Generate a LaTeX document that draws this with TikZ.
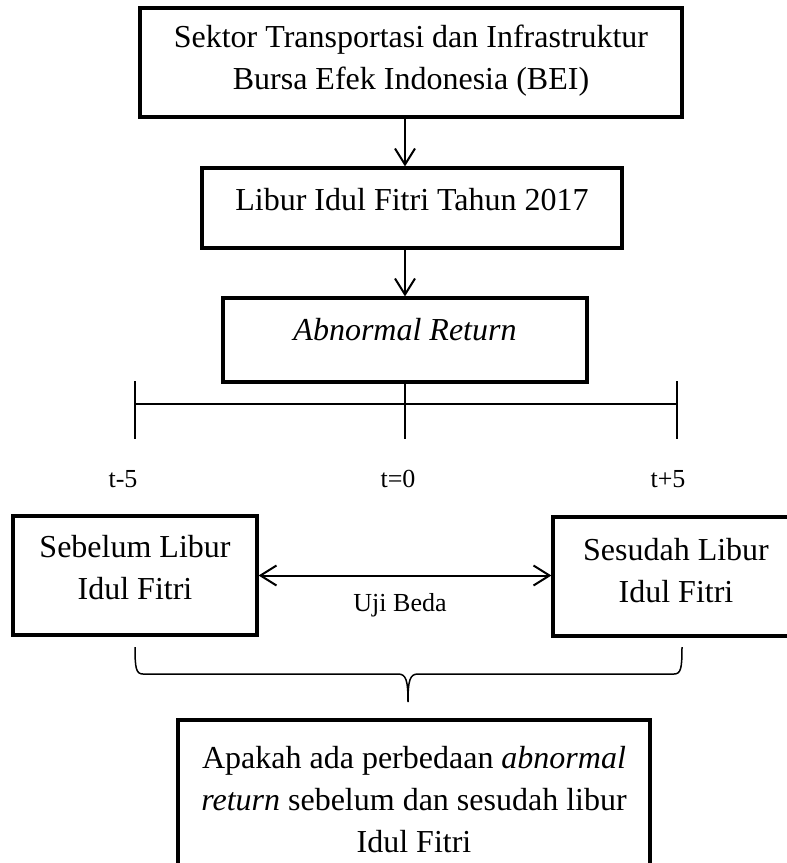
\documentclass[tikz,border=0pt]{standalone}
\usepackage{fontspec}
\setmainfont{Liberation Serif}
\usepackage{tikz}
\usetikzlibrary{arrows.meta, positioning, calc}

\tikzset{
  box/.style={draw, line width=1.6pt, inner sep=0pt},
  boxtext/.style={font=\fontsize{16}{21}\selectfont, align=center, inner sep=0pt},
  smalltext/.style={font=\fontsize{13}{16}\selectfont, inner sep=0pt},
  arr/.style={-{Straight Barb[length=8pt,width=10pt]}, line width=1pt},
  dblarr/.style={{Straight Barb[length=8pt,width=10pt]}-{Straight Barb[length=8pt,width=10pt]}, line width=1pt},
  tick/.style={line width=0.8pt}
}

\begin{document}
\begin{tikzpicture}[x=0.5pt, y=-0.5pt]
\useasboundingbox (0,0) rectangle (787,863);
% Boxes
\node[box, minimum width=271pt, minimum height=54.5pt] (sektor) at (411,62.5) {};
\node[box, minimum width=210pt, minimum height=40pt] (libur) at (412,208) {};
\node[box, minimum width=182pt, minimum height=42pt] (abnormal) at (405,340) {};
\node[box, minimum width=122pt, minimum height=59.5pt] (sebelum) at (135,575.5) {};
\node[box, minimum width=122pt, minimum height=59.5pt] (sesudah) at (675,576.5) {};
\node[box, minimum width=236pt, minimum height=82pt] (apakah) at (414,802) {};
% Box texts
\node[boxtext] (sektortxt) at (411,61) {Sektor Transportasi dan Infrastruktur\\Bursa Efek Indonesia (BEI)};
\node[boxtext] (liburtxt) at (412,200) {Libur Idul Fitri Tahun 2017};
\node[boxtext] (abnormaltxt) at (405,330) {\textit{Abnormal Return}};
\node[boxtext] (sebelumtxt) at (135,568) {Sebelum Libur\\Idul Fitri};
\node[boxtext] (sesudahtxt) at (676,571) {Sesudah Libur\\Idul Fitri};
\node[boxtext] (apakahtxt) at (414,800) {Apakah ada perbedaan \textit{abnormal}\\\textit{return} sebelum dan sesudah libur\\Idul Fitri};
% Arrows
\draw[arr] (sektor.south -| abnormal.north) -- (libur.north -| abnormal.north);
\draw[arr] (libur.south -| abnormal.north) -- (abnormal.north);
\draw[dblarr] (sebelum.east) -- (sebelum.east -| sesudah.west);
\node[smalltext] (ujibeda) at (400,605) {Uji Beda};
% Time line
\coordinate (tmin) at (135,404);
\coordinate (tmax) at (677,404);
\draw[tick] (tmin) -- (tmax);
\draw[tick] (135,381) -- (135,439);
\draw[tick] (677,381) -- (677,439);
\draw[tick] (abnormal.south) -- (405,439);
\node[smalltext] (tminus) at (123,479) {t-5};
\node[smalltext] (tzero) at (398,479) {t=0};
\node[smalltext] (tplus) at (668,479) {t+5};
% Brace
\draw[line width=0.75pt] (135,647) .. controls (135,668) and (136,674) .. (143,674) -- (398,674)
  .. controls (406,674) and (408,680) .. (408,702)
  .. controls (408,680) and (410,674) .. (418,674) -- (674,674)
  .. controls (681,674) and (682,668) .. (682,647);
\end{tikzpicture}
\end{document}
